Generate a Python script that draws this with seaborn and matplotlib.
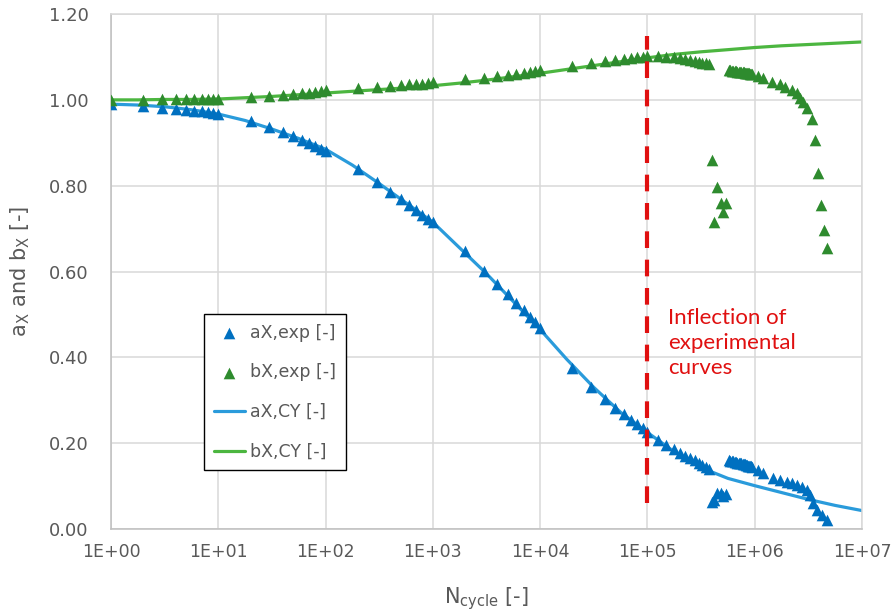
import matplotlib
matplotlib.use("Agg")
import matplotlib.pyplot as plt
from matplotlib.ticker import FixedLocator, FixedFormatter, NullLocator
import pandas as pd
import seaborn as sns

# ---------------------------------------------------------------------------
# Cyclic evolution of the a_X and b_X parameters
# ---------------------------------------------------------------------------

# Chaboche-Yoshida (CY) model curves, sampled every quarter decade
n_cy = [1, 1.778, 3.162, 5.623,
        10, 17.78, 31.62, 56.23,
        100, 177.8, 316.2, 562.3,
        1000, 1778, 3162, 5623,
        1e4, 1.778e4, 3.162e4, 5.623e4,
        1e5, 1.778e5, 3.162e5, 5.623e5,
        1e6, 1.778e6, 3.162e6, 5.623e6,
        1e7]
a_cy = [0.990, 0.988, 0.984, 0.977,
        0.967, 0.952, 0.932, 0.910,
        0.885, 0.848, 0.805, 0.760,
        0.715, 0.655, 0.595, 0.530,
        0.465, 0.395, 0.330, 0.272,
        0.225, 0.180, 0.143, 0.118,
        0.101, 0.085, 0.069, 0.055,
        0.043]
b_cy = [1.000, 1.000, 1.001, 1.001,
        1.002, 1.005, 1.008, 1.012,
        1.016, 1.020, 1.024, 1.028,
        1.033, 1.039, 1.046, 1.054,
        1.062, 1.071, 1.080, 1.089,
        1.098, 1.106, 1.112, 1.117,
        1.122, 1.126, 1.129, 1.132,
        1.135]

# Experimental cycles shared by both parameters
n_exp = [1, 2, 3, 4, 5, 6, 7, 8, 9, 10,
         20, 30, 40, 50, 60, 70, 80, 90, 100,
         200, 300, 400, 500, 600, 700, 800, 900, 1000,
         2000, 3000, 4000, 5000, 6000, 7000, 8000, 9000, 10000,
         2e4, 3e4, 4e4, 5e4, 6e4, 7e4, 8e4, 9e4, 1e5,
         1.25e5, 1.5e5, 1.75e5, 2.0e5, 2.25e5, 2.5e5, 2.75e5, 3.0e5, 3.25e5, 3.5e5, 3.75e5,
         4.0e5, 4.2e5, 4.45e5, 4.9e5, 5.1e5, 5.45e5,
         5.7e5, 5.9e5, 6.1e5, 6.3e5, 6.5e5, 6.7e5, 6.9e5, 7.1e5, 7.3e5, 7.5e5,
         7.7e5, 7.9e5, 8.1e5, 8.3e5, 8.5e5, 8.7e5, 8.9e5, 9.1e5, 9.3e5, 9.5e5]
a_exp = [0.990, 0.985, 0.982, 0.979, 0.977, 0.975, 0.973, 0.971, 0.969, 0.967,
         0.951, 0.937, 0.926, 0.916, 0.907, 0.899, 0.892, 0.886, 0.881,
         0.839, 0.808, 0.786, 0.769, 0.755, 0.743, 0.732, 0.723, 0.715,
         0.648, 0.601, 0.571, 0.547, 0.527, 0.510, 0.495, 0.482, 0.469,
         0.375, 0.330, 0.302, 0.283, 0.268, 0.255, 0.245, 0.236, 0.227,
         0.207, 0.195, 0.186, 0.178, 0.171, 0.165, 0.160, 0.155, 0.150, 0.145, 0.139,
         0.062, 0.068, 0.085, 0.083, 0.078, 0.082,
         0.160, 0.159, 0.158, 0.158, 0.157, 0.156, 0.155, 0.155, 0.154, 0.153,
         0.152, 0.151, 0.151, 0.150, 0.149, 0.148, 0.147, 0.147, 0.146, 0.145]
b_exp = [1.000, 1.000, 1.001, 1.001, 1.001, 1.002, 1.002, 1.002, 1.003, 1.003,
         1.007, 1.010, 1.012, 1.014, 1.016, 1.017, 1.019, 1.020, 1.022,
         1.027, 1.030, 1.032, 1.034, 1.036, 1.037, 1.038, 1.040, 1.041,
         1.048, 1.052, 1.056, 1.059, 1.061, 1.063, 1.065, 1.067, 1.069,
         1.080, 1.085, 1.091, 1.094, 1.096, 1.098, 1.100, 1.101, 1.102,
         1.102, 1.100, 1.099, 1.097, 1.095, 1.093, 1.091, 1.089, 1.087, 1.085, 1.083,
         0.860, 0.716, 0.798, 0.759, 0.739, 0.759,
         1.069, 1.069, 1.068, 1.068, 1.067, 1.067, 1.066, 1.066, 1.065, 1.065,
         1.064, 1.064, 1.063, 1.063, 1.062, 1.062, 1.062, 1.061, 1.061, 1.060]

# End-of-life tails (recorded at slightly different cycles for each parameter)
n_a_tail = [1.07e6, 1.2e6, 1.48e6, 1.72e6, 2.0e6, 2.22e6, 2.48e6, 2.75e6,
            3.07e6, 3.27e6, 3.49e6, 3.8e6, 4.24e6, 4.71e6]
a_tail = [0.138, 0.130, 0.119, 0.114, 0.110, 0.107, 0.102, 0.099,
          0.091, 0.079, 0.060, 0.044, 0.033, 0.021]
n_b_tail = [1.07e6, 1.2e6, 1.44e6, 1.72e6, 1.91e6, 2.21e6, 2.46e6, 2.64e6,
            2.82e6, 3.05e6, 3.4e6, 3.65e6, 3.91e6, 4.14e6, 4.42e6, 4.68e6]
b_tail = [1.056, 1.050, 1.042, 1.038, 1.031, 1.023, 1.015, 1.005,
          0.995, 0.980, 0.955, 0.906, 0.829, 0.755, 0.697, 0.655]

# Inflection marker
n_inflection = 1e5
inflection_span = (0.06, 1.15)

x_ticks = [1, 10, 100, 1000, 1e4, 1e5, 1e6, 1e7]
x_tick_labels = ["1E+00", "1E+01", "1E+02", "1E+03", "1E+04", "1E+05", "1E+06", "1E+07"]
y_ticks = [0.0, 0.2, 0.4, 0.6, 0.8, 1.0, 1.2]
y_tick_labels = ["0.00", "0.20", "0.40", "0.60", "0.80", "1.00", "1.20"]

# ---------------------------------------------------------------------------
cy_df = pd.DataFrame({"N": n_cy, "aX": a_cy, "bX": b_cy})
a_df = pd.DataFrame({"N": n_exp + n_a_tail, "aX": a_exp + a_tail})
b_df = pd.DataFrame({"N": n_exp + n_b_tail, "bX": b_exp + b_tail})

sns.set_theme(style="whitegrid")
plt.rcParams["font.family"] = ["DejaVu Sans"]
plt.rcParams["mathtext.default"] = "regular"

TEXT = "#595959"
GRID = "#D9D9D9"
BLUE_PT = "#0070C0"
GREEN_PT = "#2E8B2E"
BLUE_LN = "#2A9BDB"
GREEN_LN = "#4CB640"
RED = "#E01010"

fig = plt.figure(figsize=(8.93, 6.16), dpi=100)
ax = fig.add_axes([0.1243, 0.1412, 0.8410, 0.8360])

sns.lineplot(data=cy_df, x="N", y="aX", ax=ax, color=BLUE_LN, lw=2.3,
             estimator=None, sort=False, label="aX,CY [-]", zorder=2)
sns.lineplot(data=cy_df, x="N", y="bX", ax=ax, color=GREEN_LN, lw=2.3,
             estimator=None, sort=False, label="bX,CY [-]", zorder=2)
sns.scatterplot(data=a_df, x="N", y="aX", ax=ax, marker="^", s=70,
                color=BLUE_PT, linewidth=0, label="aX,exp [-]", zorder=3)
sns.scatterplot(data=b_df, x="N", y="bX", ax=ax, marker="^", s=70,
                color=GREEN_PT, linewidth=0, label="bX,exp [-]", zorder=3)

ax.plot([n_inflection, n_inflection], list(inflection_span), color=RED,
        lw=3.0, dashes=(4, 2.8), zorder=4)
ax.text(1.55e5, 0.433, "Inflection of\nexperimental\ncurves", color=RED,
        fontsize=16, family=["Lato", "DejaVu Sans"], ha="left", va="center",
        linespacing=1.3)

ax.set_xscale("log")
ax.set_xlim(1, 1e7)
ax.set_ylim(0, 1.2)
ax.xaxis.set_major_locator(FixedLocator(x_ticks))
ax.xaxis.set_major_formatter(FixedFormatter(x_tick_labels))
ax.xaxis.set_minor_locator(NullLocator())
ax.yaxis.set_major_locator(FixedLocator(y_ticks))
ax.yaxis.set_major_formatter(FixedFormatter(y_tick_labels))

ax.grid(True, color=GRID, lw=1.1)
ax.set_axisbelow(True)
for side in ["top", "right"]:
    ax.spines[side].set_color(GRID)
    ax.spines[side].set_linewidth(1.1)
for side in ["left", "bottom"]:
    ax.spines[side].set_color("#BFBFBF")
    ax.spines[side].set_linewidth(1.1)

ax.tick_params(axis="both", length=0, labelcolor=TEXT)
ax.tick_params(axis="y", pad=16, labelsize=13)
ax.tick_params(axis="x", pad=10, labelsize=12.5)

ax.set_xlabel("N$_{cycle}$ [-]", fontsize=15, color=TEXT)
ax.set_ylabel("a$_X$ and b$_X$ [-]", fontsize=15, color=TEXT)
ax.xaxis.set_label_coords(0.5, -0.11)
ax.yaxis.set_label_coords(-0.105, 0.5)

handles, labels = ax.get_legend_handles_labels()
order = ["aX,exp [-]", "bX,exp [-]", "aX,CY [-]", "bX,CY [-]"]
hmap = dict(zip(labels, handles))
leg = ax.legend([hmap[k] for k in order], order, loc="upper left",
                bbox_to_anchor=(0.1238, 0.4175), borderaxespad=0,
                fontsize=12.5, labelcolor=TEXT, frameon=True, fancybox=False,
                framealpha=1, edgecolor="black", borderpad=0.55,
                labelspacing=1.25, handlelength=1.8, handletextpad=0.3)
leg.get_frame().set_linewidth(1.0)

fig.savefig("out.png", dpi=100, facecolor="white")
